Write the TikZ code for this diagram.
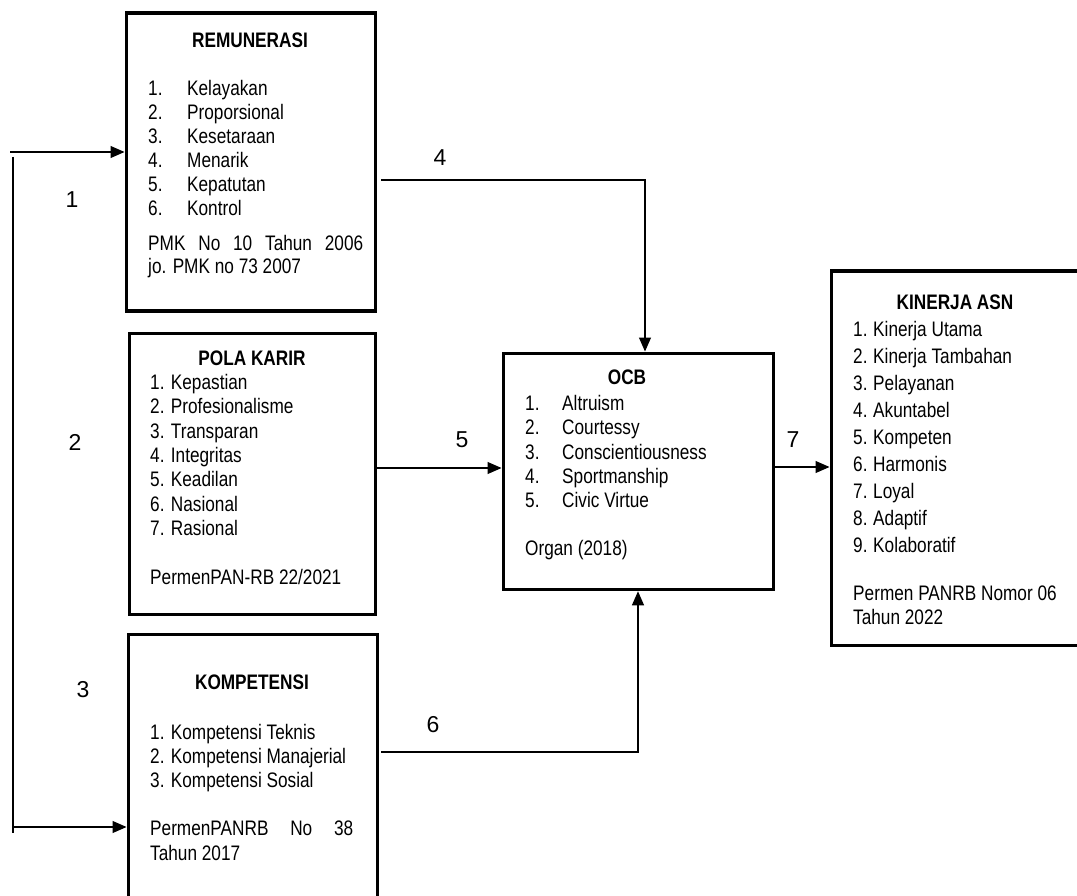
\documentclass[tikz,border=0pt]{standalone}
\usepackage{fontspec}
\setmainfont{Liberation Sans}[FakeStretch=0.82]
\newfontfamily\lblfont{Liberation Sans}
\usetikzlibrary{arrows.meta}
\begin{document}
\begin{tikzpicture}[x=1pt,y=-1pt,
  box/.style={draw,line width=3.8pt,inner sep=0pt,anchor=north west},
  conn/.style={line width=1.1pt},
  arr/.style={conn,-{Triangle[length=14pt,width=12pt]}},
  txt/.style={anchor=base west,inner sep=0pt,font=\fontsize{21}{24}\selectfont},
  ttl/.style={anchor=base,inner sep=0pt,font=\fontsize{21}{24}\selectfont\bfseries},
  lbl/.style={inner sep=0pt,font=\lblfont\fontsize{23}{27}\selectfont}]
\useasboundingbox (0,0) rectangle (1077,896);
% boxes
\node[box,minimum width=249pt,minimum height=298pt] (remun) at (124.5,11.5) {};
\node[box,minimum width=246pt,minimum height=281pt] (pola) at (127.5,331.5) {};
\node[box,minimum width=249pt,minimum height=330pt] (komp) at (126.5,632.5) {};
\node[box,minimum width=270pt,minimum height=236pt] (ocb) at (501.5,351.5) {};
\node[box,minimum width=260pt,minimum height=374pt] (kin) at (829.5,269.5) {};
% REMUNERASI
\node[ttl] (rt) at (250,47.5) {REMUNERASI};
\node[txt] (r1) at (148,95.5) {\makebox[39pt][l]{1.}Kelayakan};
\node[txt] (r2) at (148,119.5) {\makebox[39pt][l]{2.}Proporsional};
\node[txt] (r3) at (148,143.5) {\makebox[39pt][l]{3.}Kesetaraan};
\node[txt] (r4) at (148,167.5) {\makebox[39pt][l]{4.}Menarik};
\node[txt] (r5) at (148,191.5) {\makebox[39pt][l]{5.}Kepatutan};
\node[txt] (r6) at (148,215.5) {\makebox[39pt][l]{6.}Kontrol};
\node[txt] (r7) at (148,250.5) {\makebox[215pt][s]{PMK No 10 Tahun 2006}};
\node[txt] (r8) at (148,273.5) {jo. PMK no 73 2007};
% POLA KARIR
\node[ttl] (pt) at (252,365.5) {POLA KARIR};
\node[txt] (p1) at (150,389.5) {1. Kepastian};
\node[txt] (p2) at (150,413.8) {2. Profesionalisme};
\node[txt] (p3) at (150,438.1) {3. Transparan};
\node[txt] (p4) at (150,462.4) {4. Integritas};
\node[txt] (p5) at (150,486.7) {5. Keadilan};
\node[txt] (p6) at (150,511.0) {6. Nasional};
\node[txt] (p7) at (150,535.3) {7. Rasional};
\node[txt] (p8) at (150,584.5) {PermenPAN-RB 22/2021};
% KOMPETENSI
\node[ttl] (kt) at (252,689.5) {KOMPETENSI};
\node[txt] (k1) at (150,739.5) {1. Kompetensi Teknis};
\node[txt] (k2) at (150,763.5) {2. Kompetensi Manajerial};
\node[txt] (k3) at (150,787.5) {3. Kompetensi Sosial};
\node[txt] (k4) at (150,835.5) {\makebox[203pt][s]{PermenPANRB No 38}};
\node[txt] (k5) at (150,860.5) {Tahun 2017};
% OCB
\node[ttl] (ot) at (627,384.5) {OCB};
\node[txt] (o1) at (525,410.5) {\makebox[37pt][l]{1.}Altruism};
\node[txt] (o2) at (525,434.8) {\makebox[37pt][l]{2.}Courtessy};
\node[txt] (o3) at (525,459.1) {\makebox[37pt][l]{3.}Conscientiousness};
\node[txt] (o4) at (525,483.4) {\makebox[37pt][l]{4.}Sportmanship};
\node[txt] (o5) at (525,507.7) {\makebox[37pt][l]{5.}Civic Virtue};
\node[txt] (o6) at (525,555.5) {Organ (2018)};
% KINERJA ASN
\node[ttl] (nt) at (955,309.5) {KINERJA ASN};
\node[txt] (n1) at (853,336.5) {\makebox[20pt][l]{1.}Kinerja Utama};
\node[txt] (n2) at (853,363.5) {\makebox[20pt][l]{2.}Kinerja Tambahan};
\node[txt] (n3) at (853,390.5) {\makebox[20pt][l]{3.}Pelayanan};
\node[txt] (n4) at (853,417.5) {\makebox[20pt][l]{4.}Akuntabel};
\node[txt] (n5) at (853,444.5) {\makebox[20pt][l]{5.}Kompeten};
\node[txt] (n6) at (853,471.5) {\makebox[20pt][l]{6.}Harmonis};
\node[txt] (n7) at (853,498.5) {\makebox[20pt][l]{7.}Loyal};
\node[txt] (n8) at (853,525.5) {\makebox[20pt][l]{8.}Adaptif};
\node[txt] (n9) at (853,552.5) {\makebox[20pt][l]{9.}Kolaboratif};
\node[txt] (n10) at (853,600.5) {Permen PANRB Nomor 06};
\node[txt] (n11) at (853,624.5) {Tahun 2022};
% connector labels
\node[lbl] (l1) at (72,200) {1};
\node[lbl] (l2) at (75,442) {2};
\node[lbl] (l3) at (83,690) {3};
\node[lbl] (l4) at (440,158) {4};
\node[lbl] (l5) at (462,440) {5};
\node[lbl] (l6) at (433,725) {6};
\node[lbl] (l7) at (793,440) {7};
% left bracket
\coordinate (a1) at (10,152);
\coordinate (v1) at (13,157);
\coordinate (v2) at (13,833);
\coordinate (a3) at (13,827);
\draw[arr] (a1) -- (a1 -| remun.west);
\draw[conn] (v1) -- (v2);
\draw[arr] (a3) -- (a3 -| komp.west);
% arrow 4
\coordinate (c4a) at (381,180);
\coordinate (c4b) at (645,180);
\draw[arr] (c4a) -- (c4b) -- (c4b |- ocb.north);
% arrow 5
\coordinate (c5) at (375,468);
\draw[arr] (c5) -- (c5 -| ocb.west);
% arrow 6
\coordinate (c6a) at (381,752);
\coordinate (c6b) at (638,752);
\draw[arr] (c6a) -- (c6b) -- (c6b |- ocb.south);
% arrow 7
\coordinate (c7) at (773,467);
\draw[arr] (c7) -- (c7 -| kin.west);
\end{tikzpicture}
\end{document}
